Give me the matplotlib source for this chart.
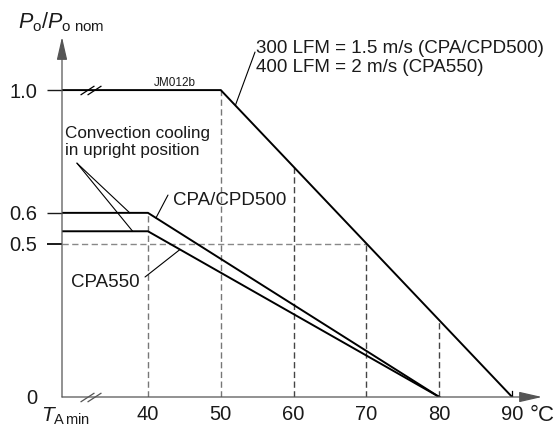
import numpy as np
import matplotlib
matplotlib.use("Agg")
import matplotlib.pyplot as plt
from matplotlib.path import Path

plt.rcParams['font.family'] = ['Liberation Sans', 'DejaVu Sans']
plt.rcParams['mathtext.fontset'] = 'custom'
plt.rcParams['mathtext.rm'] = 'Liberation Sans'
plt.rcParams['mathtext.it'] = 'Liberation Sans:italic'

# derating curves (ambient temperature in degC, relative output power)
t_min = 28.2
t_air = [t_min, 50, 90]
p_air = [1.0, 1.0, 0.0]
t_500 = [t_min, 40, 80]
p_500 = [0.6, 0.6, 0.0]
t_550 = [t_min, 40, 80]
p_550 = [0.54, 0.54, 0.0]

xticks = [40, 50, 60, 70, 80, 90]
yticks = [0, 0.5, 0.6, 1.0]
ylabels = ['0', '0.5', '0.6', '1.0']

W, H = 559, 428
fig = plt.figure(figsize=(W / 100, H / 100), dpi=100)
ax = fig.add_axes([62 / W, 31 / H, (542 - 62) / W, (397 - 37) / H])
ax.set_xlim(t_min, 94.1)
ax.set_ylim(0, 1.173)
for s in ax.spines.values():
    s.set_visible(False)

axcol = '#555555'
txtcol = '#1a1a1a'
# axes with arrow heads
arr = dict(arrowstyle='-|>,head_length=1.4,head_width=0.32', lw=0.9,
           color=axcol, shrinkA=0, shrinkB=0, mutation_scale=10)
ax.annotate('', xy=(1, 0), xytext=(0, 0), xycoords='axes fraction', arrowprops=arr)
ax.annotate('', xy=(0, 1), xytext=(0, 0), xycoords='axes fraction', arrowprops=arr)

# ticks
ax.set_xticks(xticks)
ax.set_xticklabels([str(t) for t in xticks])
ax.tick_params(axis='x', length=0, pad=5.5, labelsize=14.5, colors=txtcol)
ax.set_yticks(yticks)
ax.set_yticklabels(ylabels)
ax.tick_params(axis='y', length=10.5, width=1.0, pad=7.5, labelsize=14.5, colors=txtcol)
yt = ax.yaxis.get_major_ticks()
yt[0].tick1line.set_visible(False)
yt[1].tick1line.set_color('#888888')
yt[1].tick1line.set_markeredgewidth(1.4)
yt[2].tick1line.set_color('black')
yt[3].tick1line.set_color('black')

# dashed guide lines
tops = [p_500[1], 1.0] + [float(np.interp(t, t_air, p_air)) for t in xticks[2:5]]
cols = ['#777777', '#777777', '#444444', '#444444', '#444444']
for t, top, c in zip(xticks[:5], tops, cols):
    ax.plot([t, t], [0, top], color=c, lw=1.0, linestyle=(0, (4.5, 2.5)))
ax.plot([t_min, 70], [0.5, 0.5], color='#888888', lw=1.0, linestyle=(0, (4.5, 2.5)))
ax.plot([90, 90], [0, 0.018], color='black', lw=0.9)

# curves
for tt, pp in [(t_air, p_air), (t_500, p_500), (t_550, p_550)]:
    ax.plot(tt, pp, color='black', lw=1.4, solid_joinstyle='miter')

# axis break marks
slash = Path([(-1, -0.65), (1, 0.65)], [Path.MOVETO, Path.LINETO])
for yb, col in [(1.0, 'black'), (0.0, axcol)]:
    ax.plot([31.6, 32.6], [yb, yb], linestyle='none', marker=slash,
            markersize=10, markeredgewidth=0.9, color=col, clip_on=False)

# labels and annotations
fs = 13.5
ax.text(22.1, 1.202, r'$P_{\mathrm{o}}/P_{\mathrm{o\ nom}}$', fontsize=15.5,
        ha='left', va='baseline', color=txtcol, clip_on=False)
ax.text(25.3, -0.081, r'$T_{\mathrm{A\,min}}$', fontsize=15,
        ha='left', va='baseline', color=txtcol, clip_on=False)
ax.text(92.4, -0.078, '°C', fontsize=16, ha='left', va='baseline',
        color=txtcol, clip_on=False)
ax.text(43.7, 1.023, 'JM012b', fontsize=8.5, ha='center', va='center', color=txtcol)

ax.text(54.9, 1.06, '300 LFM = 1.5 m/s (CPA/CPD500)\n400 LFM = 2 m/s (CPA550)',
        fontsize=fs, ha='left', va='baseline', linespacing=1.1, color=txtcol)
lead = dict(arrowstyle='-', lw=0.8, color='black', shrinkA=0, shrinkB=0)
ax.annotate('', xy=(52, np.interp(52, t_air, p_air)), xytext=(54.7, 1.124),
            arrowprops=lead)

ax.text(28.6, 0.788, 'Convection cooling\nin upright position', fontsize=12.3,
        ha='left', va='baseline', linespacing=1.15, color=txtcol)
for tt, pp, tx in [(t_500, p_500, 37.5), (t_550, p_550, 37.9)]:
    ax.annotate('', xy=(tx, np.interp(tx, tt, pp)), xytext=(30.25, 0.762),
                arrowprops=lead)

ax.text(43.4, 0.625, 'CPA/CPD500', fontsize=fs, ha='left', va='baseline', color=txtcol)
ax.annotate('', xy=(41.1, np.interp(41.1, t_500, p_500)), xytext=(42.75, 0.658),
            arrowprops=lead)

ax.text(38.9, 0.358, 'CPA550', fontsize=fs, ha='right', va='baseline', color=txtcol)
ax.annotate('', xy=(44.4, np.interp(44.4, t_550, p_550)), xytext=(39.6, 0.391),
            arrowprops=lead)

fig.savefig('out.png', dpi=100)
